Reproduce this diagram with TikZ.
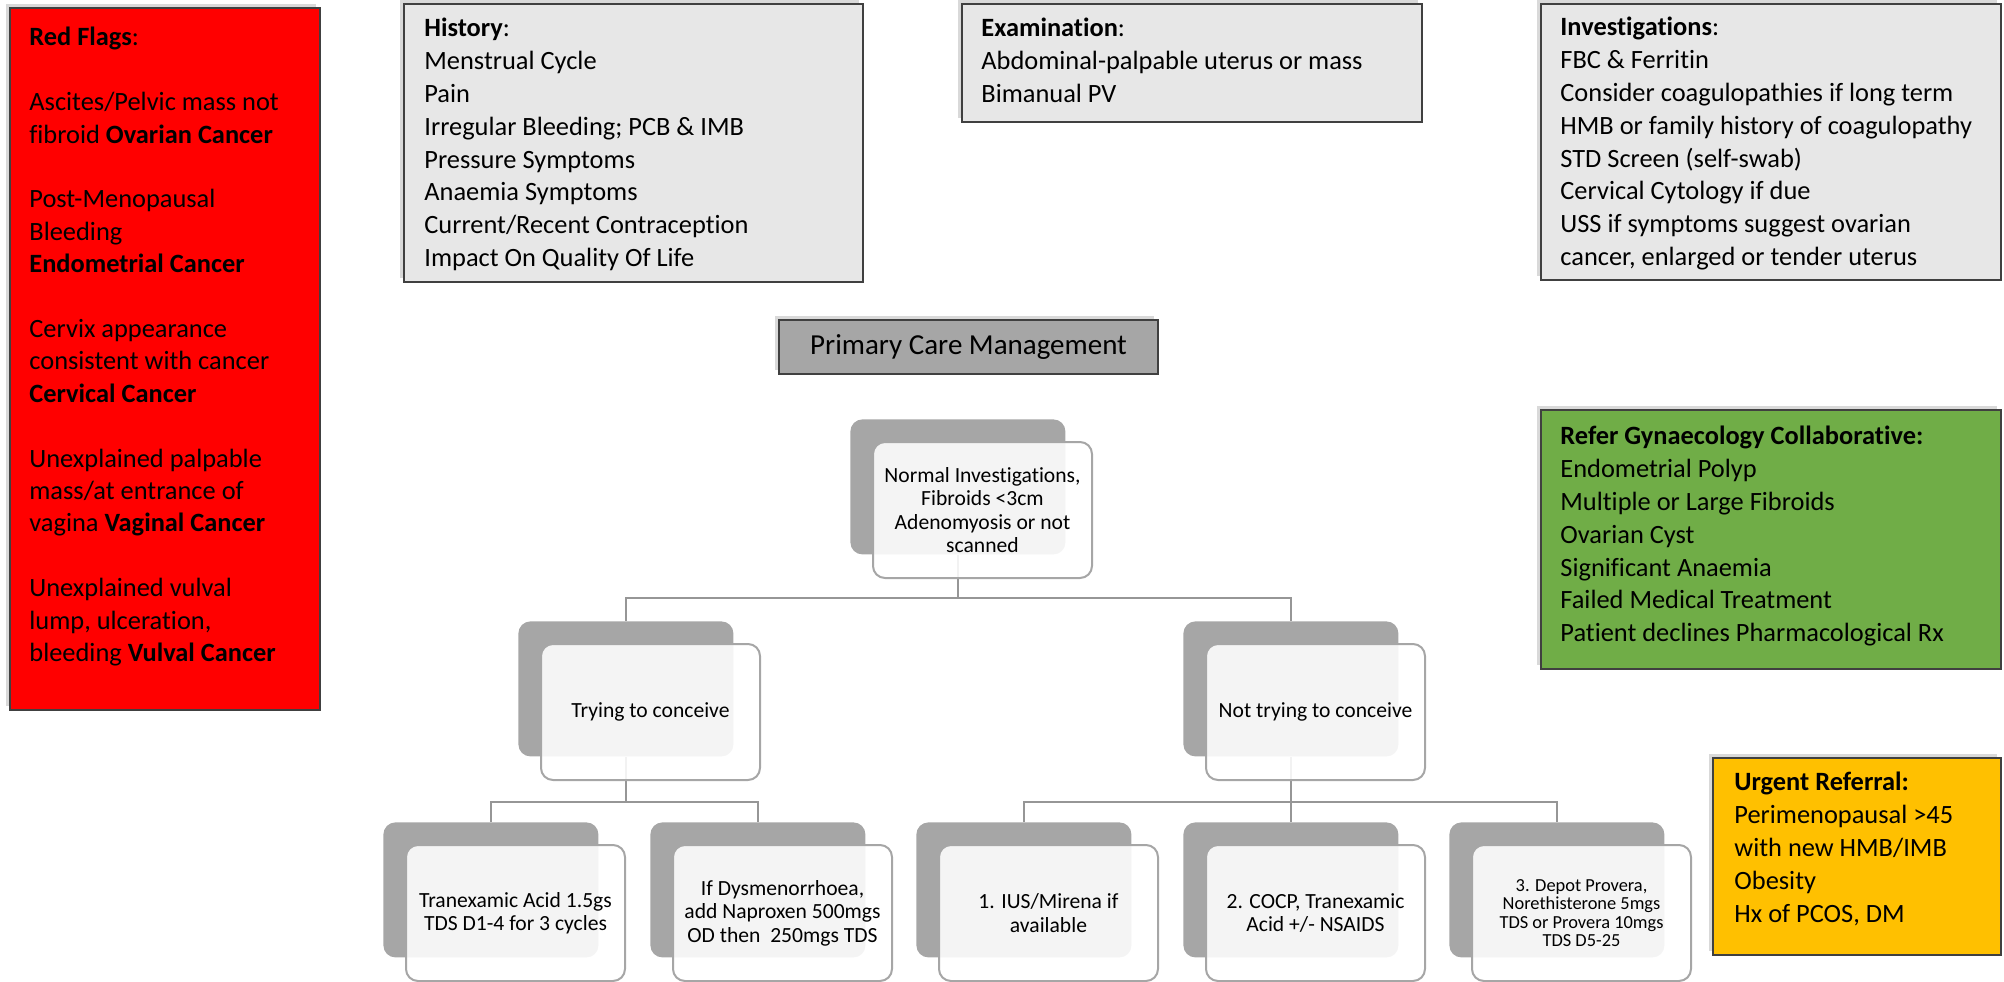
\documentclass[tikz,border=0pt]{standalone}
\usepackage{fontspec}
\setmainfont{Carlito}[Ligatures=NoCommon]
\usetikzlibrary{positioning,shadows}

\definecolor{flagred}{RGB}{255,0,0}
\definecolor{panelgray}{RGB}{231,231,231}
\definecolor{boxgray}{RGB}{166,166,166}
\definecolor{linkgray}{RGB}{150,150,150}
\definecolor{gynaegreen}{RGB}{112,173,71}
\definecolor{urgentyellow}{RGB}{255,192,0}

\begin{document}
\begin{tikzpicture}[x=0.5pt,y=-0.5pt]
    \tikzset{
        infobox/.style={draw=black!75, line width=1pt, anchor=north west, inner sep=0pt,
            drop shadow={shadow xshift=-2pt, shadow yshift=2pt, opacity=0.3}},
        infotext/.style={anchor=north west, inner sep=0pt, align=left,
            font=\fontsize{13.2}{16.4}\selectfont},
        backbox/.style={fill=boxgray, rounded corners=6pt, minimum width=107.5pt,
            minimum height=67.5pt, anchor=north west, inner sep=0pt},
        frontbox/.style={draw=boxgray, line width=1pt, fill=white, fill opacity=0.88,
            text opacity=1, rounded corners=6pt, minimum width=109.5pt, minimum height=68pt,
            align=center, font=\fontsize{10.8}{11.7}\selectfont, inner sep=2pt},
        link/.style={draw=linkgray, line width=1.3pt}
    }
\useasboundingbox (0,0) rectangle (2004,981);

% Red flags
\node[infobox, fill=flagred, minimum width=155pt, minimum height=351pt] (redflags) at (9,7) {};
\node[infotext, font=\fontsize{13.2}{16.2}\selectfont] (redtxt) at (29,27) {\textbf{Red Flags}:\\[16.2pt]
    Ascites/Pelvic mass not\\fibroid \textbf{Ovarian Cancer}\\[16.2pt]
    Post-Menopausal\\Bleeding\\\textbf{Endometrial Cancer}\\[16.2pt]
    Cervix appearance\\consistent with cancer\\\textbf{Cervical Cancer}\\[16.2pt]
    Unexplained palpable\\mass/at entrance of\\vagina \textbf{Vaginal Cancer}\\[16.2pt]
    Unexplained vulval\\lump, ulceration,\\bleeding \textbf{Vulval Cancer}};

% History, examination, investigations
\node[infobox, fill=panelgray, minimum width=229.5pt, minimum height=139pt] (history) at (403,3) {};
\node[infotext] (histtxt) at (424,18) {\textbf{History}:\\Menstrual Cycle\\Pain\\
    Irregular Bleeding; PCB \& IMB\\Pressure Symptoms\\Anaemia Symptoms\\
    Current/Recent Contraception\\Impact On Quality Of Life};

\node[infobox, fill=panelgray, minimum width=230pt, minimum height=59pt] (exam) at (961,3) {};
\node[infotext] (examtxt) at (981,18) {\textbf{Examination}:\\
    Abdominal-palpable uterus or mass\\Bimanual PV};

\node[infobox, fill=panelgray, minimum width=230pt, minimum height=138pt] (invest) at (1540,3) {};
\node[infotext] (invtxt) at (1560,17) {\textbf{Investigations}:\\FBC \& Ferritin\\
    Consider coagulopathies if long term\\HMB or family history of coagulopathy\\
    STD Screen (self-swab)\\Cervical Cytology if due\\USS if symptoms suggest ovarian\\
    cancer, enlarged or tender uterus};

% Referrals
\node[infobox, fill=gynaegreen, minimum width=230pt, minimum height=129.5pt] (refer) at (1540,409) {};
\node[infotext] (refertxt) at (1560,426) {\textbf{Refer Gynaecology Collaborative:}\\
    Endometrial Polyp\\Multiple or Large Fibroids\\Ovarian Cyst\\Significant Anaemia\\
    Failed Medical Treatment\\Patient declines Pharmacological Rx};

\node[infobox, fill=urgentyellow, minimum width=144pt, minimum height=98.5pt] (urgent) at (1712,757) {};
\node[infotext] (urgenttxt) at (1734,772) {\textbf{Urgent Referral:}\\
    Perimenopausal >45\\with new HMB/IMB\\Obesity\\Hx of PCOS, DM};

% Primary care
\node[infobox, fill=boxgray, minimum width=189.5pt, minimum height=27pt,
    font=\fontsize{14.5}{17}\selectfont] (primary) at (778,319) {Primary Care Management};

% Tree: back boxes
\node[backbox] (normalB) at (850,419) {};
\node[backbox] (tryingB) at (518,621) {};
\node[backbox] (nottryingB) at (1183,621) {};
\foreach \name/\xpos in {t1/383, t2/650, n1/916, n2/1183, n3/1449} {
    \node[backbox] (\name B) at (\xpos,822) {};
}

% Tree: connectors
\draw[link] (normalB.south) -- ++(0,43) -| (tryingB.north);
\draw[link] (normalB.south) -- ++(0,43) -| (nottryingB.north);
\foreach \child in {t1,t2} {
    \draw[link] (tryingB.south) -- ++(0,45) -| (\child B.north);
}
\foreach \child in {n1,n2,n3} {
    \draw[link] (nottryingB.south) -- ++(0,45) -| (\child B.north);
}

% Tree: front boxes
\node[frontbox, below right=11pt and 11pt of normalB.north west] (normal)
    {Normal Investigations,\\Fibroids <3cm\\Adenomyosis or not\\scanned};
\node[frontbox, below right=11pt and 11pt of tryingB.north west] (trying) {Trying to conceive};
\node[frontbox, below right=11pt and 11pt of nottryingB.north west] (nottrying) {Not trying to conceive};
\node[frontbox, below right=11pt and 11pt of t1B.north west] (t1)
    {Tranexamic Acid 1.5gs\\TDS D1-4 for 3 cycles};
\node[frontbox, below right=11pt and 11pt of t2B.north west] (t2)
    {If Dysmenorrhoea,\\add Naproxen 500mgs\\OD then~ 250mgs TDS};
\node[frontbox, below right=11pt and 11pt of n1B.north west] (n1) {1. IUS/Mirena if\\available};
\node[frontbox, below right=11pt and 11pt of n2B.north west] (n2) {2. COCP, Tranexamic\\Acid +/- NSAIDS};
\node[frontbox, below right=11pt and 11pt of n3B.north west, font=\fontsize{9.2}{9.2}\selectfont] (n3)
    {3. Depot Provera,\\Norethisterone 5mgs\\TDS or Provera 10mgs\\TDS D5-25};

\end{tikzpicture}
\end{document}
